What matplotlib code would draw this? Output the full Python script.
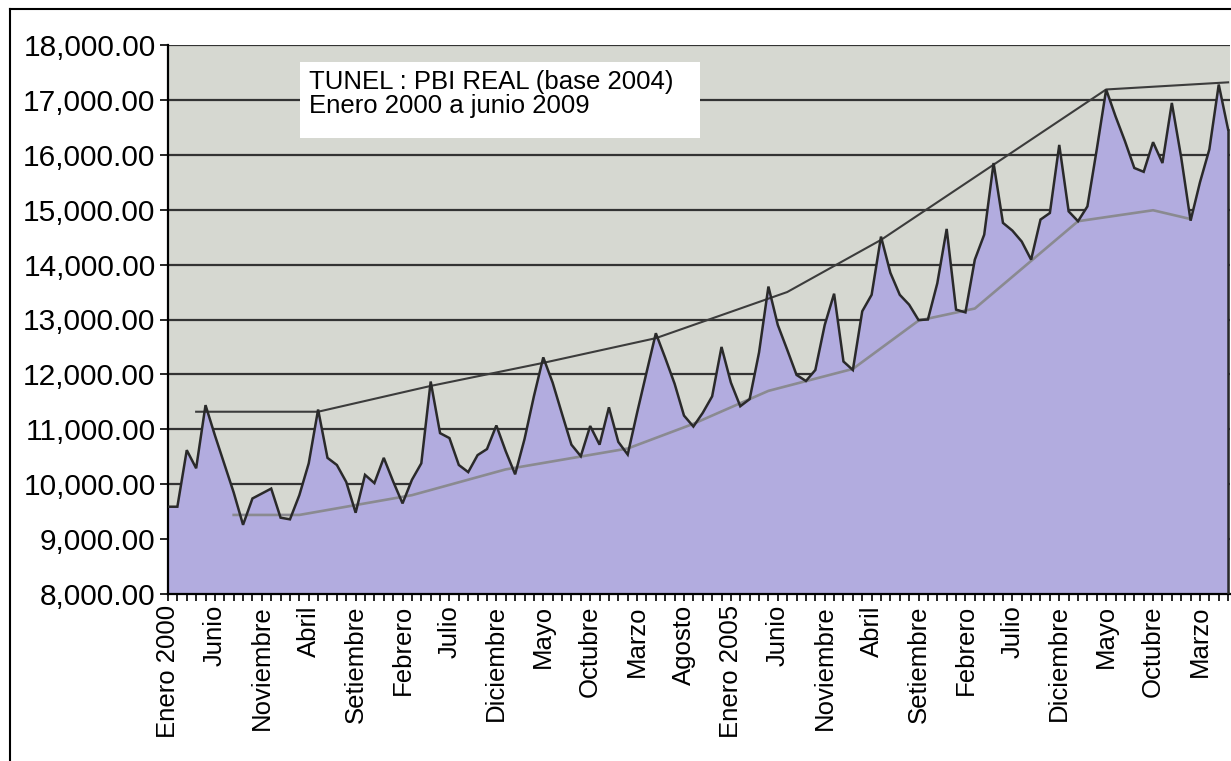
import matplotlib
matplotlib.use("Agg")
import matplotlib.pyplot as plt
from matplotlib.ticker import FuncFormatter, MultipleLocator
from matplotlib.lines import Line2D
from matplotlib.patches import Rectangle

plt.rcParams['font.family'] = ['Liberation Sans', 'DejaVu Sans']

# ---- data -------------------------------------------------------------
# Monthly real GDP, January 2000 (index 0) to June 2009 (index 113)
pbi = [
    9590, 9590, 10620, 10290, 11440, 10890, 10370, 9850, 9260, 9740,
    9830, 9920, 9390, 9360, 9800, 10380, 11360, 10480, 10350, 10040,
    9480, 10170, 10020, 10480, 10050, 9650, 10080, 10380, 11870, 10930,
    10840, 10350, 10220, 10530, 10640, 11070, 10600, 10180, 10820, 11600,
    12310, 11850, 11280, 10720, 10510, 11060, 10720, 11400, 10770, 10540,
    11300, 12030, 12750, 12300, 11830, 11250, 11050, 11300, 11600, 12500,
    11850, 11420, 11550, 12400, 13600, 12900, 12450, 11990, 11880, 12080,
    12900, 13470, 12235, 12080, 13150, 13450, 14510, 13850, 13450, 13270,
    12990, 13000, 13660, 14650, 13180, 13130, 14090, 14545, 15850, 14760,
    14620, 14420, 14090, 14820, 14940, 16180, 14970, 14790, 15060, 16100,
    17190, 16700, 16250, 15760, 15690, 16230, 15850, 16945, 15950, 14800,
    15500, 16100, 17280, 16460,
]

# upper bound of the "tunnel"
upper_month = [3, 16, 28, 40, 52, 66, 76, 100, 113]
upper_value = [11320, 11320, 11790, 12210, 12660, 13500, 14450, 17190, 17320]

# lower bound of the "tunnel"
lower_month = [7, 14, 26, 36, 49, 56, 64, 73, 80, 86, 97, 105, 109]
lower_value = [9440, 9440, 9800, 10270, 10650, 11100, 11700, 12100, 12980,
               13200, 14790, 14990, 14830]

tick_labels = ["Enero 2000", "Junio", "Noviembre", "Abril", "Setiembre",
               "Febrero", "Julio", "Diciembre", "Mayo", "Octubre", "Marzo",
               "Agosto", "Enero 2005", "Junio", "Noviembre", "Abril",
               "Setiembre", "Febrero", "Julio", "Diciembre", "Mayo",
               "Octubre", "Marzo"]
tick_step = 5

title_lines = ["TUNEL : PBI REAL (base 2004)", "Enero 2000 a junio 2009"]

# ---- figure -----------------------------------------------------------
W, H = 1231, 761
fig = plt.figure(figsize=(W / 100, H / 100), dpi=100)
fig.patch.set_facecolor("white")

ax_l, ax_r, ax_t, ax_b = 168, 1230, 45, 594
ax = fig.add_axes([ax_l / W, 1 - ax_b / H, (ax_r - ax_l) / W, (ax_b - ax_t) / H])
ax.set_facecolor("#d6d8d1")

months = list(range(len(pbi)))
ymin, ymax = 8000, 18000

# horizontal grid lines
ax.set_axisbelow(True)
ax.yaxis.grid(True, color="#333333", linewidth=1.6)
ax.xaxis.grid(False)

ax.fill_between(months, ymin, pbi, color="#b2acdf", linewidth=0, zorder=2)
ax.plot(months, pbi, color="#2a2a2a", linewidth=1.8, zorder=4,
        solid_joinstyle="miter")
ax.plot([months[-1], months[-1]], [ymin, pbi[-1]], color="#2a2a2a",
        linewidth=1.8, zorder=4)

ax.plot(upper_month, upper_value, color="#3c3c3c", linewidth=1.5, zorder=3)
ax.plot(lower_month, lower_value, color="#8a8a90", linewidth=1.9, zorder=3)

ax.set_xlim(0, 113.2)
ax.set_ylim(ymin, ymax)

ax.yaxis.set_major_locator(MultipleLocator(1000))
ax.yaxis.set_major_formatter(FuncFormatter(lambda v, p: f"{v:,.2f}"))
ax.tick_params(axis="y", direction="out", length=6, width=1.2,
               labelsize=21.5, pad=3, colors="black")

ax.set_xticks([i * tick_step for i in range(len(tick_labels))])
ax.set_xticklabels(tick_labels, rotation=90, fontsize=18.5, va="top", ha="center")
ax.xaxis.set_minor_locator(MultipleLocator(1))
ax.tick_params(axis="x", which="both", direction="out", length=5, width=1.2,
               pad=3)

for s in ["top", "right"]:
    ax.spines[s].set_visible(False)
for s in ["left", "bottom"]:
    ax.spines[s].set_color("black")
    ax.spines[s].set_linewidth(1.6)

# title box
bx0, by0, bx1, by1 = 300, 62, 700, 138
fig.patches.append(Rectangle((bx0 / W, 1 - by1 / H), (bx1 - bx0) / W,
                             (by1 - by0) / H, transform=fig.transFigure,
                             facecolor="white", edgecolor="none", zorder=5))
fig.text(309 / W, 1 - 89 / H, title_lines[0], fontsize=18.5, ha="left",
         va="baseline", zorder=6)
fig.text(309 / W, 1 - 113 / H, title_lines[1], fontsize=18.5, ha="left",
         va="baseline", zorder=6)

# outer frame
fig.add_artist(Line2D([10 / W, 1], [1 - 9 / H, 1 - 9 / H], color="black",
                      linewidth=1.5, transform=fig.transFigure))
fig.add_artist(Line2D([10 / W, 10 / W], [0, 1 - 9 / H], color="black",
                      linewidth=1.5, transform=fig.transFigure))

fig.savefig("out.png", dpi=100, facecolor="white")
